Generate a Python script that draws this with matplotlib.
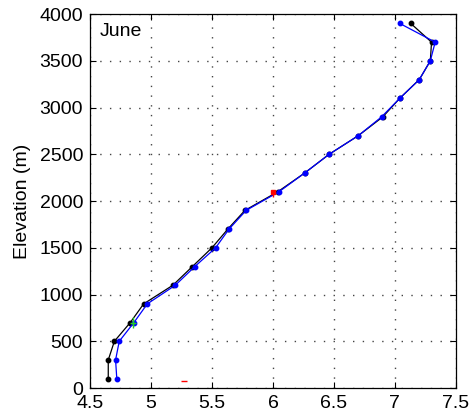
import matplotlib
matplotlib.use("Agg")
import matplotlib.pyplot as plt

plt.rcParams["font.family"] = ["Liberation Sans", "DejaVu Sans"]

# elevation levels (m)
elev = [100, 300, 500, 700, 900, 1100, 1300, 1500, 1700, 1900,
        2100, 2300, 2500, 2700, 2900, 3100, 3300, 3500, 3700, 3900]
# black profile
black_x = [4.65, 4.65, 4.70, 4.83, 4.94, 5.18, 5.34, 5.50, 5.63, 5.77,
           6.04, 6.26, 6.46, 6.70, 6.90, 7.04, 7.20, 7.29, 7.30, 7.13]
# blue profile
blue_x = [4.72, 4.71, 4.74, 4.86, 4.97, 5.20, 5.36, 5.53, 5.64, 5.78,
          6.05, 6.26, 6.46, 6.70, 6.89, 7.04, 7.20, 7.29, 7.33, 7.04]
# single observations
red_pt = (6.00, 2100, 60)
green_pt = (4.85, 700, 60)
red_dash = (5.27, 80)

xticks = [4.5, 5, 5.5, 6, 6.5, 7, 7.5]
xticklabels = ["4.5", "5", "5.5", "6", "6.5", "7", "7.5"]
yticks = [0, 500, 1000, 1500, 2000, 2500, 3000, 3500, 4000]

fig = plt.figure(figsize=(4.71, 4.15), dpi=100)
ax = fig.add_axes([0.191, 0.065, 0.777, 0.901])

ax.plot(black_x, elev, color="black", lw=0.9, marker="o", ms=3.2, zorder=3)
ax.plot(blue_x, elev, color="#0000ff", lw=0.9, marker="o", ms=3.2, zorder=4)
ax.errorbar(red_pt[0], red_pt[1], yerr=[[red_pt[2]], [0]], color="red",
            marker="s", ms=3, lw=1, capsize=0, zorder=5)
ax.errorbar(green_pt[0], green_pt[1], yerr=green_pt[2], color="#22cc22",
            marker="+", ms=5, lw=1, capsize=0, zorder=5)
ax.plot(red_dash[0], red_dash[1], color="red", marker="_", ms=4, zorder=5)

ax.set_xlim(4.5, 7.5)
ax.set_ylim(0, 4000)
ax.set_xticks(xticks)
ax.set_xticklabels(xticklabels)
ax.set_yticks(yticks)
ax.tick_params(direction="in", top=True, right=True, labelsize=14,
               length=4, width=0.8)
ax.tick_params(axis="x", pad=5)
ax.tick_params(axis="y", pad=5)
ax.grid(True, color="#444444", ls=(0, (1, 6)), lw=1.0)
for s in ax.spines.values():
    s.set_linewidth(0.9)
ax.set_ylabel("Elevation (m)", fontsize=14, labelpad=6)
ax.text(0.027, 0.975, "June", transform=ax.transAxes, fontsize=14,
        ha="left", va="top")

fig.savefig("out.png", dpi=100)
